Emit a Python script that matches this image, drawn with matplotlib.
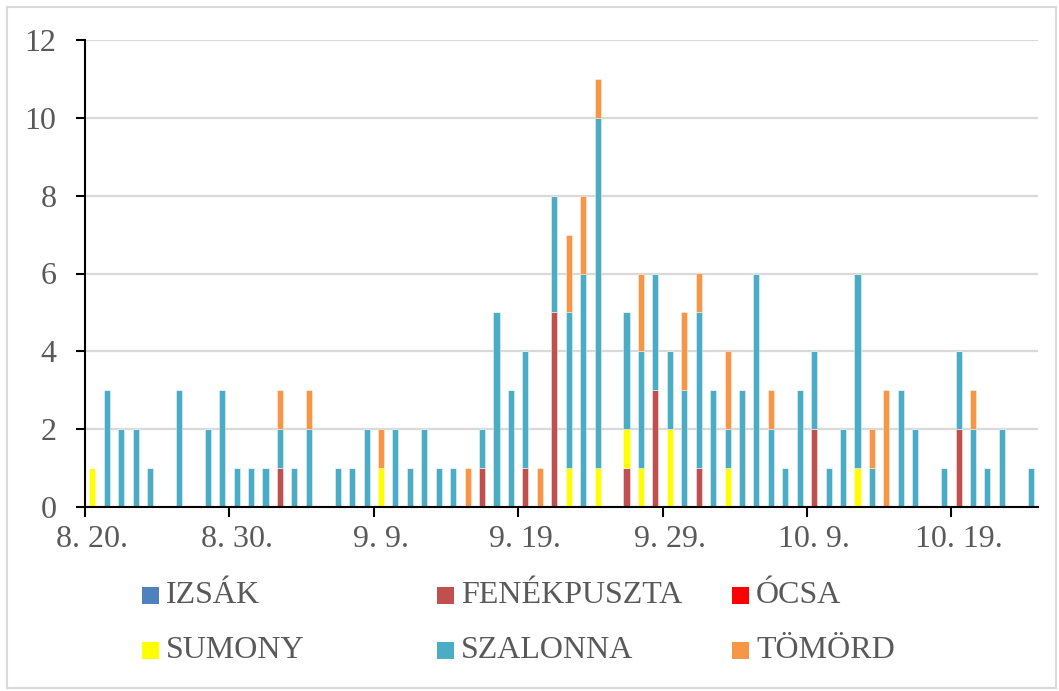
import numpy as np
import matplotlib
matplotlib.use("Agg")
import matplotlib.pyplot as plt
from matplotlib.patches import Rectangle

plt.rcParams['font.family'] = ['Liberation Serif', 'DejaVu Serif']

# one value per day, 8.20. .. 10.24.
izsak = [0] * 66
ocsa = [0] * 66
fenekpuszta = [0, 0, 0, 0, 0, 0, 0, 0, 0, 0,
               0, 0, 0, 1, 0, 0, 0, 0, 0, 0,
               0, 0, 0, 0, 0, 0, 0, 1, 0, 0,
               1, 0, 5, 0, 0, 0, 0, 1, 0, 3,
               0, 0, 1, 0, 0, 0, 0, 0, 0, 0,
               2, 0, 0, 0, 0, 0, 0, 0, 0, 0,
               2, 0, 0, 0, 0, 0]
sumony = [1, 0, 0, 0, 0, 0, 0, 0, 0, 0,
          0, 0, 0, 0, 0, 0, 0, 0, 0, 0,
          1, 0, 0, 0, 0, 0, 0, 0, 0, 0,
          0, 0, 0, 1, 0, 1, 0, 1, 1, 0,
          2, 0, 0, 0, 1, 0, 0, 0, 0, 0,
          0, 0, 0, 1, 0, 0, 0, 0, 0, 0,
          0, 0, 0, 0, 0, 0]
szalonna = [0, 3, 2, 2, 1, 0, 3, 0, 2, 3,
            1, 1, 1, 1, 1, 2, 0, 1, 1, 2,
            0, 2, 1, 2, 1, 1, 0, 1, 5, 3,
            3, 0, 3, 4, 6, 9, 0, 3, 3, 3,
            2, 3, 4, 3, 1, 3, 6, 2, 1, 3,
            2, 1, 2, 5, 1, 0, 3, 2, 0, 1,
            2, 2, 1, 2, 0, 1]
tomord = [0, 0, 0, 0, 0, 0, 0, 0, 0, 0,
          0, 0, 0, 1, 0, 1, 0, 0, 0, 0,
          1, 0, 0, 0, 0, 0, 1, 0, 0, 0,
          0, 1, 0, 2, 2, 1, 0, 0, 2, 0,
          0, 2, 1, 0, 2, 0, 0, 1, 0, 0,
          0, 0, 0, 0, 1, 3, 0, 0, 0, 0,
          0, 1, 0, 0, 0, 0]

names = ["IZSÁK", "FENÉKPUSZTA", "ÓCSA", "SUMONY", "SZALONNA", "TÖMÖRD"]
colors = ["#4F81BD", "#C0504D", "#FF0000", "#FFFF00", "#4BACC6", "#F79646"]
series = [izsak, fenekpuszta, ocsa, sumony, szalonna, tomord]
tick_labels = ["8. 20.", "8. 30.", "9. 9.", "9. 19.", "9. 29.", "10. 9.", "10. 19."]

W, H = 1059, 691
fig = plt.figure(figsize=(W / 100, H / 100), dpi=100)
ax = fig.add_axes([85 / W, 1 - 507 / H, (1038 - 85) / W, (507 - 40) / H])

x = np.arange(66) + 0.5
bottom = np.zeros(66)
for vals, c in zip(series, colors):
    v = np.array(vals, dtype=float)
    ax.bar(x, v, width=0.42, bottom=bottom, color=c, edgecolor=(1, 1, 1, 0.5),
           linewidth=0.6, zorder=3)
    bottom += v

ax.set_xlim(0, 66)
ax.set_ylim(0, 12)
ax.set_yticks(range(0, 13, 2))
ax.yaxis.grid(True, color="#D9D9D9", linewidth=1.6, zorder=0)

ax.set_xticks(range(0, 61, 10))
ax.set_xticklabels([])
ax.set_xticks(np.arange(0, 61, 10) + 0.5, minor=True)
ax.set_xticklabels(tick_labels, minor=True)
ax.tick_params(axis='x', which='major', direction='out', length=7, width=1.5, color='black')
ax.tick_params(axis='x', which='minor', length=0, pad=13, labelsize=23, labelcolor="#595959")
ax.tick_params(axis='y', direction='out', length=6.5, width=1.5, color='black',
               pad=14, labelsize=23, labelcolor="#595959")

for s in ['top', 'right']:
    ax.spines[s].set_visible(False)
for s in ['left', 'bottom']:
    ax.spines[s].set_linewidth(1.5)
    ax.spines[s].set_zorder(4)

# legend drawn by hand: 3 columns, 2 rows
col_x = [142, 437, 732]
row_y = [595.5, 650.5]
for i, (name, c) in enumerate(zip(names, colors)):
    cx = col_x[i % 3]
    cy = row_y[i // 3]
    fig.patches.append(Rectangle((cx / W, 1 - (cy + 8.5) / H), 17 / W, 17 / H,
                                 transform=fig.transFigure, facecolor=c, edgecolor='none'))
    fig.text((cx + 24) / W, 1 - cy / H, name, fontsize=23, color="#595959",
             ha='left', va='center')

fig.patches.append(Rectangle((7 / W, 3 / H), 1049 / W, 681 / H, transform=fig.transFigure,
                             facecolor='none', edgecolor="#D9D9D9", linewidth=1.5))

fig.savefig("out.png", dpi=100)
